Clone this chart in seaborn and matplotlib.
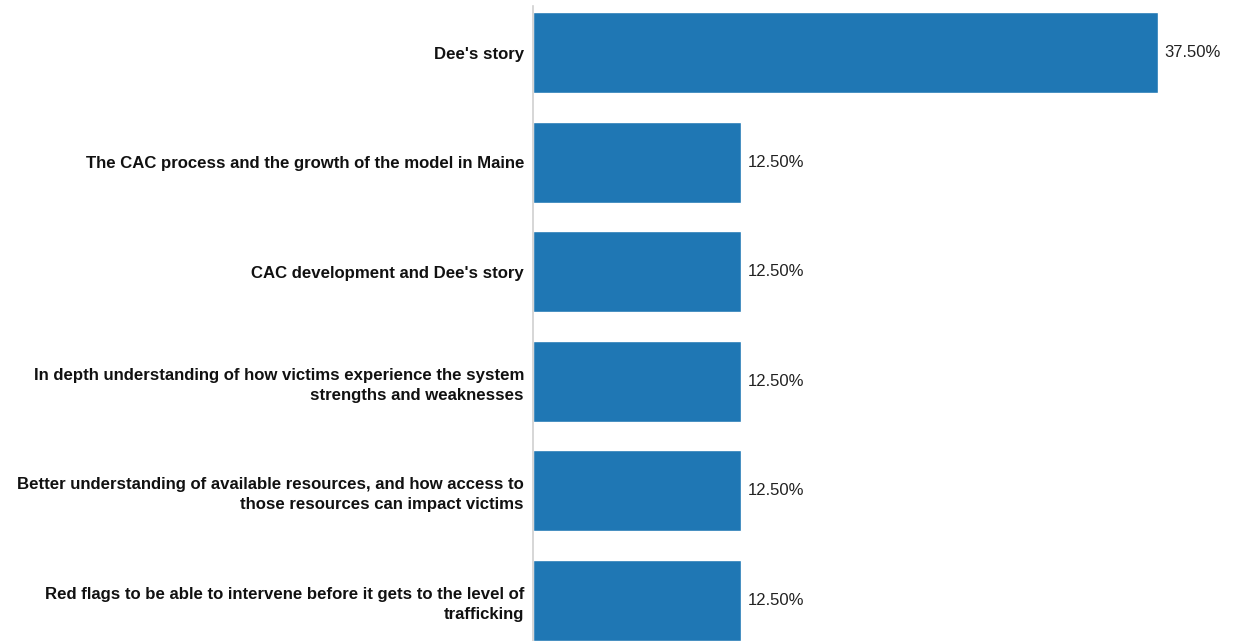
import matplotlib
matplotlib.use("Agg")
import matplotlib.pyplot as plt
import seaborn as sns
import pandas as pd

categories = [
    "Dee's story",
    "The CAC process and the growth of the model in Maine",
    "CAC development and Dee's story",
    "In depth understanding of how victims experience the system\nstrengths and weaknesses",
    "Better understanding of available resources, and how access to\nthose resources can impact victims",
    "Red flags to be able to intervene before it gets to the level of\ntrafficking",
]
values = [37.5, 12.5, 12.5, 12.5, 12.5, 12.5]
value_labels = ["37.50%", "12.50%", "12.50%", "12.50%", "12.50%", "12.50%"]

sns.set_theme(style="white")
plt.rcParams['font.family'] = ['Liberation Sans', 'DejaVu Sans']

df = pd.DataFrame({"category": categories, "value": values})

fig = plt.figure(figsize=(12.35, 6.41), dpi=100)
ax = fig.add_axes([533/1235, 0.0, 1 - 533/1235, 635/641])

sns.barplot(data=df, y="category", x="value", color="#1f77b4", width=0.74,
            saturation=1, ax=ax, orient="h")

for p, lab in zip(ax.patches, value_labels):
    ax.annotate(lab, (p.get_width(), p.get_y() + p.get_height() / 2),
                xytext=(4.5, 0), textcoords="offset points", va="center", ha="left",
                fontsize=12, color="#222222")

ax.set_xlim(0, 42.12)
ax.set_ylim(5.37, -0.425)
ax.set_xlabel("")
ax.set_ylabel("")
ax.set_xticks([])
for s in ["top", "right", "bottom"]:
    ax.spines[s].set_visible(False)
ax.spines["left"].set_color("#d0d0d0")
ax.spines["left"].set_linewidth(1.2)
ax.tick_params(axis="y", length=0, pad=6.5)
for t in ax.get_yticklabels():
    t.set_fontweight("bold")
    t.set_fontsize(12.1)
    t.set_color("#111111")
    t.set_linespacing(1.4)

fig.savefig("out.png", dpi=100)
